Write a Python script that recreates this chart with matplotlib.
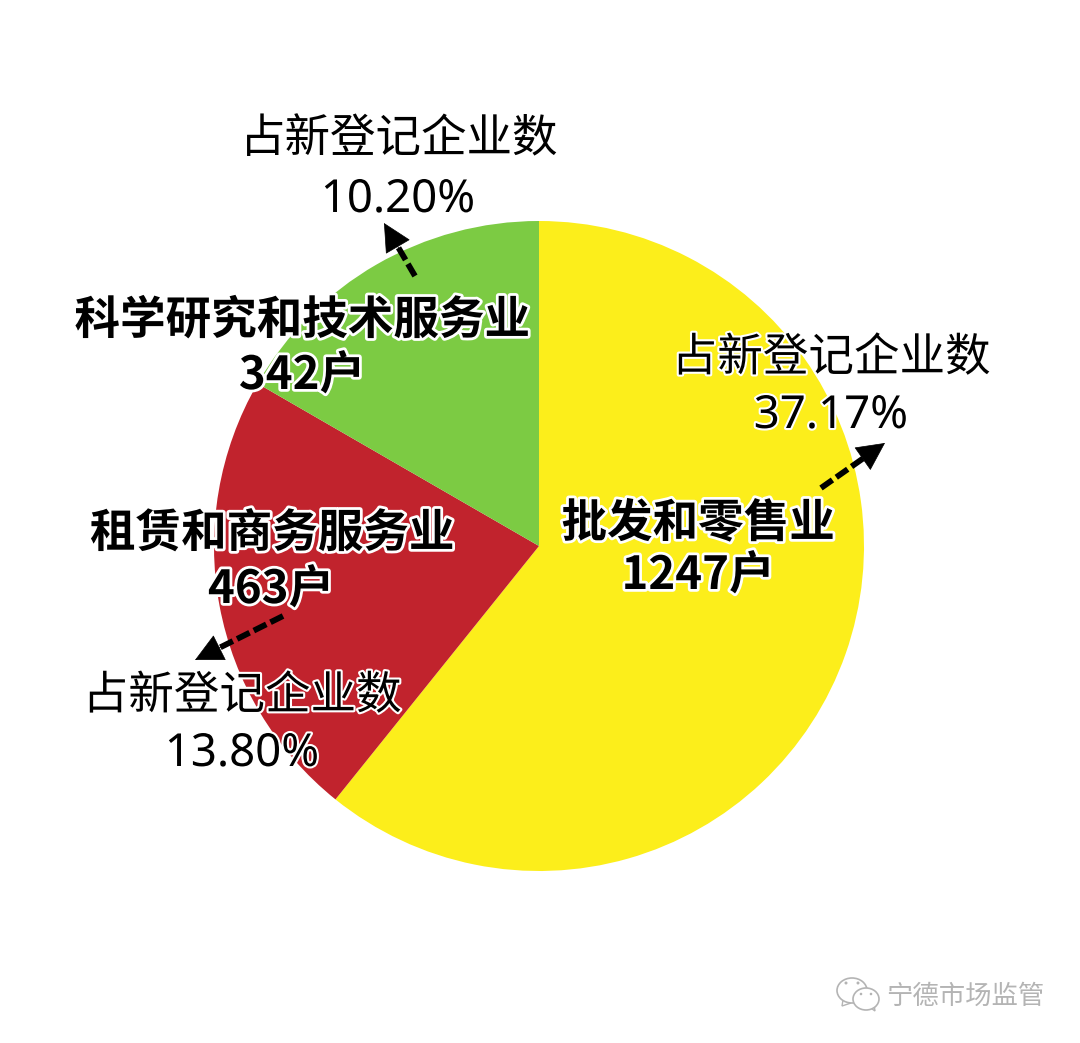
import matplotlib
matplotlib.use('Agg')
from matplotlib import pyplot as plt
from matplotlib import patheffects
from matplotlib.patches import Ellipse, Polygon
import numpy as np

plain_fonts = ['Noto Sans', 'Noto Sans CJK SC', 'DejaVu Sans']
bold_fonts = ['Noto Sans CJK SC', 'DejaVu Sans']
plt.rcParams['font.family'] = plain_fonts

categories = ['批发和零售业', '租赁和商务服务业', '科学研究和技术服务业']
counts = [1247, 463, 342]
shares = ['37.17%', '13.80%', '10.20%']
colors = ['#fcee1b', '#c1232d', '#7ccb43']

W, H = 1080, 1043
fig = plt.figure(figsize=(W/100, H/100), dpi=100)
# whole-figure axes in pixel coords, y pointing down
ax = fig.add_axes([0, 0, 1, 1])

# y is flipped below, so -90 is the top of the picture and ccw runs clockwise on screen
wedges, _ = ax.pie(counts, colors=colors, startangle=-90, counterclock=True,
                   center=(539, 546), radius=325, frame=True)
ax.set_xlim(0, W)
ax.set_ylim(H, 0)
ax.set_aspect('auto')
ax.axis('off')

stroke = [patheffects.withStroke(linewidth=4, foreground='w')]
thin = [patheffects.withStroke(linewidth=3, foreground='w')]
fs = 32.8

def label(x, y, s, fx=None):
    ax.text(x, y, s, ha='center', va='center', fontsize=fs,
            color='k', path_effects=fx, zorder=5)

def bold_label(x, y, s):
    # Noto Sans has no bold here, the CJK family does
    ax.text(x, y, s, ha='center', va='center', fontsize=fs, fontweight='bold',
            family=bold_fonts, color='k', path_effects=stroke, zorder=5)

# name + count labels, bold with white halo
bold_label(698, 524, categories[0])
bold_label(698, 576, f'{counts[0]}户')
bold_label(272, 534, categories[1])
bold_label(271, 590, f'{counts[1]}户')
bold_label(302, 321, categories[2])
bold_label(302, 376, f'{counts[2]}户')

# share labels
label(831, 359, '占新登记企业数', fx=thin)
label(831, 416, shares[0], fx=thin)
label(242, 697, '占新登记企业数', fx=thin)
label(242, 754, shares[1], fx=thin)
label(399, 140, '占新登记企业数')
label(398, 200, shares[2], fx=thin)

# dashed arrows: dashed shaft plus a solid head
def arrow(x0, y0, x1, y1):
    d = np.array([x1-x0, y1-y0], dtype=float)
    d /= np.hypot(*d)
    neck = np.array([x1, y1]) - d*20
    stub = np.array([x1, y1]) - d*30
    ax.plot([x0, neck[0]], [y0, neck[1]], color='k', lw=4.2, ls=(0, (2.4, 0.8)),
            dash_capstyle='butt', zorder=6)
    ax.annotate('', xy=(x1, y1), xytext=stub, zorder=6,
                arrowprops=dict(arrowstyle='-|>,head_length=1.0,head_width=0.5',
                                mutation_scale=19, color='k', lw=0.5,
                                shrinkA=0, shrinkB=0))

arrow(821, 488, 885, 443)
arrow(283, 616, 195, 660)
arrow(415, 276, 384, 223)

# watermark
wm = '#b4b4b4'
ax.text(1044, 996, '宁德市场监管', ha='right', va='center', fontsize=19, color=wm,
        family=bold_fonts, fontweight='light')
ax.add_patch(Polygon([(843, 1000), (842, 1006), (851, 1003)], fc='w', ec=wm, lw=1))
ax.add_patch(Ellipse((852, 990.5), 30, 25, fc='w', ec=wm, lw=1.2))
ax.add_patch(Polygon([(868, 1006), (875, 1011), (874, 1004)], fc='w', ec=wm, lw=1))
ax.add_patch(Ellipse((866, 999), 26, 22, fc='w', ec=wm, lw=1.2))
for ex, ey, er in [(846, 983, 1.5), (858, 983, 1.5), (861, 994, 1.3), (871, 994, 1.3)]:
    ax.add_patch(Ellipse((ex, ey), 2*er, 2*er, fc=wm, ec='none'))

plt.savefig('out.png', dpi=100)
